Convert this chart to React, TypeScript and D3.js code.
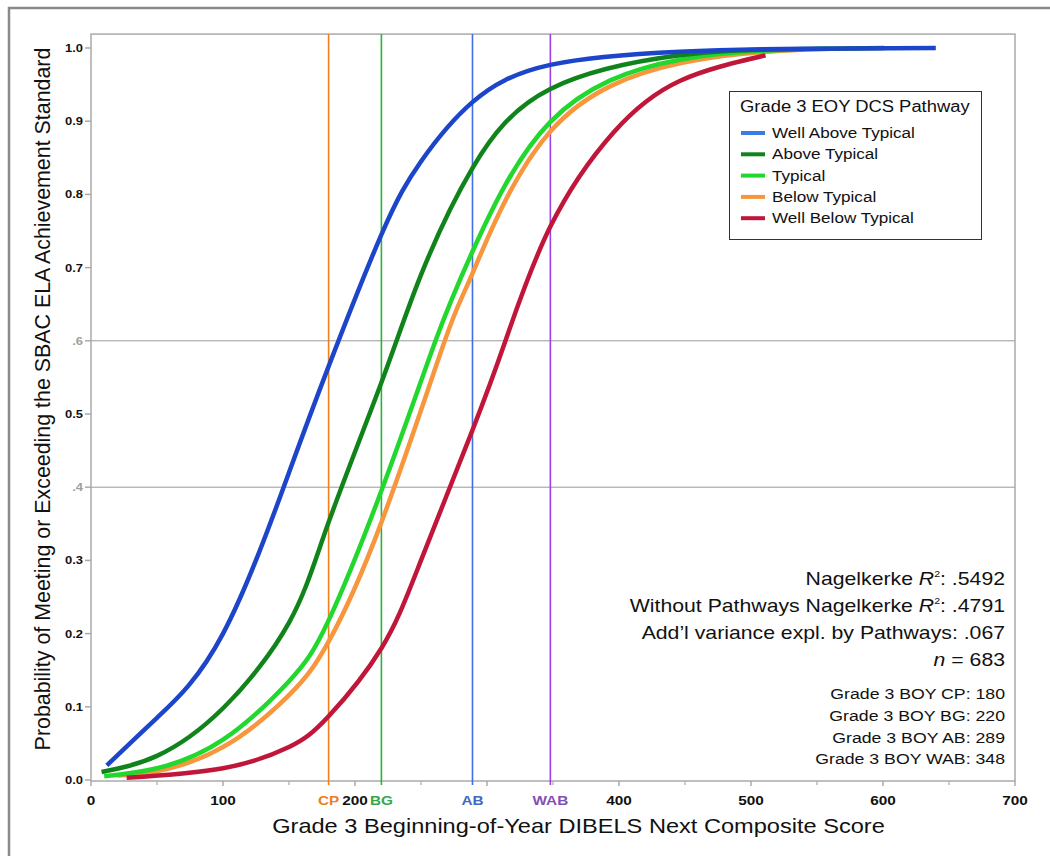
import React from "react";
import * as d3 from "d3";

type Pt = [number, number];

const seriesNames = ["Well Above Typical", "Above Typical", "Typical", "Below Typical", "Well Below Typical"];
const curveColors = ["#1c45c9", "#10841a", "#22d82e", "#f7963c", "#c0163a"];
const legendColors = ["#3b7be5", "#10841a", "#22d82e", "#f7963c", "#c0163a"];

const wellAbove: Pt[] = [
  [12, 0.02], [50, 0.085], [100, 0.2], [150, 0.42], [180, 0.565], [220, 0.745], [250, 0.845],
  [289, 0.926], [348, 0.977], [446, 0.995], [540, 0.999], [640, 1.0],
];
const above: Pt[] = [
  [8, 0.011], [50, 0.033], [100, 0.098], [150, 0.215], [180, 0.352], [220, 0.543], [250, 0.69],
  [289, 0.836], [348, 0.944], [446, 0.99], [520, 0.998], [601, 1.0],
];
const typical: Pt[] = [
  [10, 0.005], [50, 0.016], [100, 0.055], [150, 0.135], [180, 0.218], [221, 0.4], [261, 0.6],
  [289, 0.722], [348, 0.899], [446, 0.984], [560, 0.999],
];
const below: Pt[] = [
  [20, 0.006], [50, 0.012], [100, 0.045], [150, 0.116], [180, 0.189], [220, 0.352], [268, 0.6],
  [289, 0.692], [348, 0.886], [446, 0.979], [540, 0.998],
];
const wellBelow: Pt[] = [
  [27, 0.003], [100, 0.016], [150, 0.045], [180, 0.087], [220, 0.18], [250, 0.3], [289, 0.478],
  [314, 0.6], [348, 0.756], [396, 0.885], [446, 0.955], [511, 0.99],
];
const allSeries = [wellAbove, above, typical, below, wellBelow];
const drawOrder = [3, 2, 4, 1, 0];

const yTicks = [0, 0.1, 0.2, 0.3, 0.4, 0.5, 0.6, 0.7, 0.8, 0.9, 1.0];
const yTickLabels = ["0.0", "0.1", "0.2", "0.3", ".4", "0.5", ".6", "0.7", "0.8", "0.9", "1.0"];
const yGridTicks = [0.4, 0.6];

const xMajor = [0, 100, 200, 300, 400, 500, 600, 700];
const xMajorLabels = ["0", "100", "200", "", "400", "500", "600", "700"];
const xMinor = [50, 150, 250, 350, 450, 550, 650];

const cutScores = [180, 220, 289, 348];
const cutNames = ["CP", "BG", "AB", "WAB"];
const cutLineColors = ["#f07f1e", "#2ab33a", "#3f6fe0", "#9b3fe6"];
const cutLabelColors = ["#ee7d22", "#37a845", "#4467c4", "#8350b5"];

const statLines = [
  { pre: "Nagelkerke ", r2: true, post: ": .5492" },
  { pre: "Without Pathways Nagelkerke ", r2: true, post: ": .4791" },
  { pre: "Add\u2019l variance expl. by Pathways: .067", r2: false, post: "" },
];
const nText = "683";
const boyLines = ["Grade 3 BOY CP: 180", "Grade 3 BOY BG: 220", "Grade 3 BOY AB: 289", "Grade 3 BOY WAB: 348"];

const FONT = "'Liberation Sans', Arial, Helvetica, sans-serif";
const SX = 1.18;

function SText(props: {
  x: number;
  y: number;
  anchor?: string;
  size: number;
  weight?: string;
  fill?: string;
  children: React.ReactNode;
}) {
  return (
    <g transform={`translate(${props.x},${props.y}) scale(${SX},1)`}>
      <text
        x={0}
        y={0}
        textAnchor={props.anchor || "start"}
        fontSize={props.size}
        fontWeight={props.weight || "normal"}
        fill={props.fill || "#111"}
      >
        {props.children}
      </text>
    </g>
  );
}

export default function App() {
  const x = d3.scaleLinear().domain([0, 700]).range([91, 1015]);
  const y = d3.scaleLinear().domain([0, 1]).range([780, 48]);
  const plotTop = y(1.019);
  const plotBottom = y(0) + 1;
  const line = d3
    .line<Pt>()
    .x((d) => x(d[0]))
    .y((d) => y(d[1]))
    .curve(d3.curveNatural);

  return (
    <svg
      width={1050}
      height={856}
      style={{ position: "absolute", left: 0, top: 0, background: "#fff" }}
      fontFamily={FONT}
    >
      <rect x={0} y={0} width={1050} height={856} fill="#fff" />
      <rect x={9} y={8} width={1100} height={900} fill="none" stroke="#8a8a8a" strokeWidth={2.5} />

      {yGridTicks.map((t) => (
        <line key={"g" + t} x1={x(0)} x2={x(700)} y1={y(t)} y2={y(t)} stroke="#999" strokeWidth={1} />
      ))}

      <rect x={x(0)} y={plotTop} width={x(700) - x(0)} height={plotBottom - plotTop} fill="none" stroke="#aaa" strokeWidth={1.5} />

      {yTicks.map((t, i) => (
        <g key={"y" + t}>
          <line x1={x(0) - 6} x2={x(0)} y1={y(t)} y2={y(t)} stroke="#aaa" strokeWidth={1.5} />
          <SText
            x={x(0) - 8}
            y={y(t) + 4}
            anchor="end"
            size={11}
            weight="bold"
            fill={yGridTicks.includes(t) ? "#a0a0a0" : "#111"}
          >
            {yTickLabels[i]}
          </SText>
        </g>
      ))}

      {xMajor.map((t, i) => (
        <g key={"x" + t}>
          <line x1={x(t)} x2={x(t)} y1={plotBottom} y2={plotBottom + 5} stroke="#aaa" strokeWidth={1.5} />
          <SText x={x(t)} y={805} anchor="middle" size={13} weight="bold">
            {xMajorLabels[i]}
          </SText>
        </g>
      ))}
      {xMinor.map((t) => (
        <line key={"m" + t} x1={x(t)} x2={x(t)} y1={plotBottom} y2={plotBottom + 4} stroke="#aaa" strokeWidth={1.2} />
      ))}

      {cutScores.map((c, i) => (
        <g key={"c" + c}>
          <line x1={x(c)} x2={x(c)} y1={plotTop} y2={plotBottom + 4} stroke={cutLineColors[i]} strokeWidth={1.6} />
          <SText x={x(c)} y={805} anchor="middle" size={13} weight="bold" fill={cutLabelColors[i]}>
            {cutNames[i]}
          </SText>
        </g>
      ))}

      {drawOrder.map((si) => (
        <path
          key={"s" + si}
          d={line(allSeries[si]) || ""}
          fill="none"
          stroke={curveColors[si]}
          strokeWidth={4.5}
          strokeLinecap="butt"
        />
      ))}

      <rect x={729.5} y={91.5} width={252} height={148} fill="#fff" stroke="#333" strokeWidth={1} />
      <SText x={740} y={112} size={15.6}>
        Grade 3 EOY DCS Pathway
      </SText>
      {seriesNames.map((n, i) => (
        <g key={"l" + i}>
          <line x1={741} x2={765} y1={133 + i * 21.3} y2={133 + i * 21.3} stroke={legendColors[i]} strokeWidth={4} />
          <SText x={772} y={138 + i * 21.3} size={14.5}>
            {n}
          </SText>
        </g>
      ))}

      {statLines.map((s, i) => (
        <SText key={"st" + i} x={1005} y={585 + i * 27} anchor="end" size={18}>
          {s.pre}
          {s.r2 ? (
            <>
              <tspan fontStyle="italic">R</tspan>
              <tspan fontSize={9} dy={-8}>
                2
              </tspan>
              <tspan dy={8}>{s.post}</tspan>
            </>
          ) : null}
        </SText>
      ))}
      <SText x={1005} y={666} anchor="end" size={18}>
        <tspan fontStyle="italic">n</tspan>
        {" = " + nText}
      </SText>
      {boyLines.map((b, i) => (
        <SText key={"b" + i} x={1005} y={699 + i * 21.8} anchor="end" size={15}>
          {b}
        </SText>
      ))}

      <SText x={578.5} y={833} anchor="middle" size={20}>
        Grade 3 Beginning-of-Year DIBELS Next Composite Score
      </SText>
      <text transform={`translate(50, 399) rotate(-90)`} textAnchor="middle" fontSize={21.4} fill="#111">
        Probability of Meeting or Exceeding the SBAC ELA Achievement Standard
      </text>
    </svg>
  );
}
